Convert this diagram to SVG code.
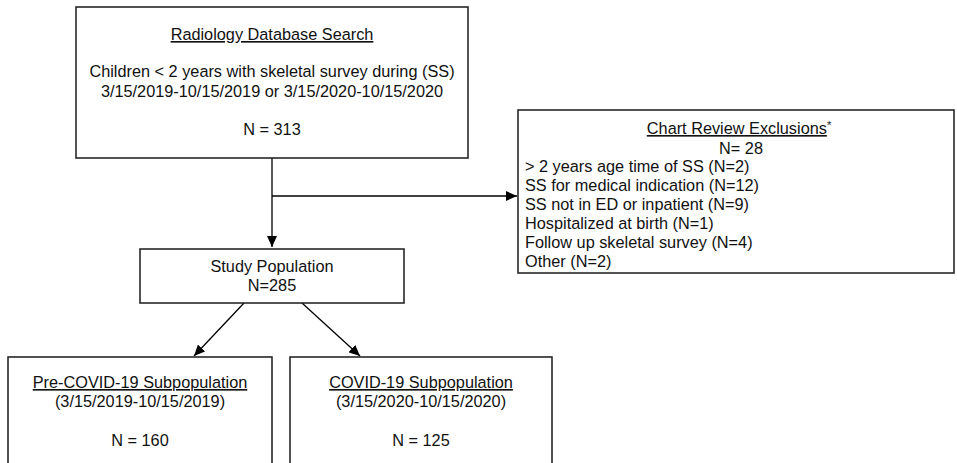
<svg xmlns="http://www.w3.org/2000/svg" width="957" height="463" viewBox="0 0 957 463">
<style>
.box{fill:#fff;stroke:#1a1a1a;stroke-width:1.5}
.t{font-family:"Liberation Sans",Arial,Helvetica,sans-serif;font-size:16.3px;fill:#111}
.c{text-anchor:middle}
.u{text-decoration:underline}
.ln{fill:none;stroke:#000;stroke-width:1.3}
</style>
<defs>
<marker id="ah" markerUnits="userSpaceOnUse" markerWidth="12" markerHeight="10" refX="11" refY="5" orient="auto">
<path d="M0,0 L11,5 L0,10 z" fill="#000"/>
</marker>
</defs>
<g id="connectors">
<path class="ln" d="M272,158 V247" marker-end="url(#ah)"/>
<path class="ln" d="M272,196 H517" marker-end="url(#ah)"/>
<path class="ln" d="M244,303 L194,356" marker-end="url(#ah)"/>
<path class="ln" d="M302,303 L360,356" marker-end="url(#ah)"/>
</g>
<g id="search">
<rect class="box" x="76" y="7" width="392" height="151"/>
<text class="t c u" x="272" y="40">Radiology Database Search</text>
<text class="t c" x="272" y="77">Children &lt; 2 years with skeletal survey during (SS)</text>
<text class="t c" x="272" y="97">3/15/2019-10/15/2019 or 3/15/2020-10/15/2020</text>
<text class="t c" x="272" y="135">N = 313</text>
</g>
<g id="exclusions">
<rect class="box" x="518" y="110" width="436" height="163"/>
<text class="t c" x="739" y="134"><tspan class="u">Chart Review Exclusions</tspan><tspan font-size="11" dy="-5">*</tspan></text>
<text class="t c" x="741" y="154">N= 28</text>
<text class="t" x="525" y="172">&gt; 2 years age time of SS (N=2)</text>
<text class="t" x="525" y="191">SS for medical indication (N=12)</text>
<text class="t" x="525" y="210">SS not in ED or inpatient (N=9)</text>
<text class="t" x="525" y="229">Hospitalized at birth (N=1)</text>
<text class="t" x="525" y="248">Follow up skeletal survey (N=4)</text>
<text class="t" x="525" y="267">Other (N=2)</text>
</g>
<g id="study">
<rect class="box" x="140" y="249" width="264" height="54"/>
<text class="t c" x="272" y="272">Study Population</text>
<text class="t c" x="272" y="291">N=285</text>
</g>
<g id="precovid">
<rect class="box" x="8" y="357" width="264" height="130"/>
<text class="t c u" x="140" y="388">Pre-COVID-19 Subpopulation</text>
<text class="t c" x="140" y="407">(3/15/2019-10/15/2019)</text>
<text class="t c" x="140" y="446">N = 160</text>
</g>
<g id="covid">
<rect class="box" x="290" y="357" width="262" height="130"/>
<text class="t c u" x="421" y="388">COVID-19 Subpopulation</text>
<text class="t c" x="421" y="407">(3/15/2020-10/15/2020)</text>
<text class="t c" x="421" y="446">N = 125</text>
</g>
</svg>
